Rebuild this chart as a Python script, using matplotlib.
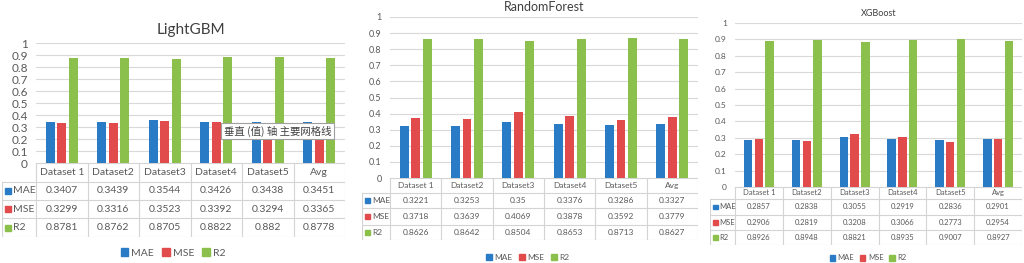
import matplotlib.pyplot as plt
from matplotlib.patches import Rectangle, Patch

plt.rcParams['font.family'] = ['Lato', 'DejaVu Sans']

# data
categories = ['Dataset 1', 'Dataset2', 'Dataset3', 'Dataset4', 'Dataset5', 'Avg']
metrics = ['MAE', 'MSE', 'R2']

lgbm_mae = [0.3407, 0.3439, 0.3544, 0.3426, 0.3438, 0.3451]
lgbm_mse = [0.3299, 0.3316, 0.3523, 0.3392, 0.3294, 0.3365]
lgbm_r2 = [0.8781, 0.8762, 0.8705, 0.8822, 0.882, 0.8778]

rf_mae = [0.3221, 0.3253, 0.35, 0.3376, 0.3286, 0.3327]
rf_mse = [0.3718, 0.3639, 0.4069, 0.3878, 0.3592, 0.3779]
rf_r2 = [0.8626, 0.8642, 0.8504, 0.8653, 0.8713, 0.8627]

xgb_mae = [0.2857, 0.2838, 0.3055, 0.2919, 0.2836, 0.2901]
xgb_mse = [0.2906, 0.2819, 0.3208, 0.3066, 0.2773, 0.2954]
xgb_r2 = [0.8926, 0.8948, 0.8821, 0.8935, 0.9007, 0.8927]

yticks = [0, 0.1, 0.2, 0.3, 0.4, 0.5, 0.6, 0.7, 0.8, 0.9, 1]

colors = ['#2A7BC5', '#E24B4B', '#8CC04C']
txt = '#595959'
grid = '#D9D9D9'

W, H = 1024, 263
fig = plt.figure(figsize=(W / 100, H / 100), dpi=100)


def fbox(x0, y0, x1, y1):
    # pixel box (top-left origin) -> figure rect
    return [x0 / W, 1 - y1 / H, (x1 - x0) / W, (y1 - y0) / H]


def draw_chart(title, series, lay):
    lab_l, col_l, col_r = lay['lab_l'], lay['col_l'], lay['col_r']
    y_top, y_zero = lay['y_top'], lay['y_zero']
    rows = lay['rows']
    fs = lay['fs']

    ax = fig.add_axes(fbox(col_l, y_top, col_r, y_zero))
    ax.set_xlim(-0.5, 5.5)
    ax.set_ylim(0, 1)
    for s in ax.spines.values():
        s.set_visible(False)
    ax.set_yticks(yticks)
    ax.set_yticklabels(['%g' % t for t in yticks])
    ax.tick_params(axis='y', length=0, labelsize=lay['tick_fs'], labelcolor=txt,
                   pad=lay['pad'])
    ax.set_xticks([])
    ax.yaxis.grid(True, color=grid, lw=0.8)
    ax.set_axisbelow(True)
    step, bw = 0.225, 0.175
    for k, vals in enumerate(series):
        xs = [i + (k - 1) * step for i in range(len(categories))]
        ax.bar(xs, vals, width=bw, color=colors[k], zorder=2)

    fig.text((col_l + col_r) / 2 / W, 1 - lay['title_y'] / H, title,
             ha='center', va='center', fontsize=lay['title_fs'], color='#404040')

    # data table
    tb = fig.add_axes(fbox(lab_l, rows[0], col_r, rows[-1]))
    tb.set_xlim(lab_l, col_r)
    tb.set_ylim(rows[-1], rows[0])
    tb.axis('off')
    ncol = len(categories)
    cw = (col_r - col_l) / ncol
    lc = '#D4D4D4'
    tb.plot([col_l, col_r], [rows[0], rows[0]], color=lc, lw=0.8)
    for r in rows[1:]:
        tb.plot([lab_l, col_r], [r, r], color=lc, lw=0.8)
    tb.plot([lab_l, lab_l], [rows[1], rows[-1]], color=lc, lw=0.8)
    for i in range(ncol + 1):
        tb.plot([col_l + i * cw] * 2, [rows[0], rows[-1]], color=lc, lw=0.8)
    for i, c in enumerate(categories):
        tb.text(col_l + (i + 0.5) * cw, (rows[0] + rows[1]) / 2, c,
                ha='center', va='center', fontsize=fs, color=txt)
    sq = lay['sq']
    for k, vals in enumerate(series):
        yc = (rows[k + 1] + rows[k + 2]) / 2
        tb.add_patch(Rectangle((lab_l + 3, yc - sq / 2), sq, sq, color=colors[k]))
        tb.text(lab_l + 5 + sq, yc, metrics[k], ha='left', va='center',
                fontsize=fs, color=txt)
        for i, v in enumerate(vals):
            tb.text(col_l + (i + 0.5) * cw, yc, '%g' % v, ha='center', va='center',
                    fontsize=fs, color=txt)

    handles = [Patch(color=colors[k], label=metrics[k]) for k in range(3)]
    fig.legend(handles=handles, loc='center', ncol=3, frameon=False,
               bbox_to_anchor=(lay['leg_x'] / W, 1 - lay['leg_y'] / H),
               fontsize=fs, labelcolor=txt, handlelength=0.7, handleheight=0.7,
               handletextpad=0.3, columnspacing=0.8, borderpad=0)
    return ax


draw_chart('LightGBM', [lgbm_mae, lgbm_mse, lgbm_r2],
           dict(lab_l=2, col_l=36, col_r=345, y_top=43, y_zero=163,
                rows=[163, 182, 200, 218, 237], fs=7.5, tick_fs=8.5, pad=6,
                title_y=30, title_fs=11, leg_x=173, leg_y=253, sq=6))
draw_chart('RandomForest', [rf_mae, rf_mse, rf_r2],
           dict(lab_l=362, col_l=390, col_r=698, y_top=17, y_zero=178,
                rows=[178, 193, 208, 225, 240], fs=6, tick_fs=6.5, pad=6,
                title_y=7, title_fs=9, leg_x=528, leg_y=257, sq=5))
draw_chart('XGBoost', [xgb_mae, xgb_mse, xgb_r2],
           dict(lab_l=710, col_l=735, col_r=1022, y_top=23, y_zero=187,
                rows=[187, 199, 215, 230, 245], fs=5.5, tick_fs=6, pad=6,
                title_y=14, title_fs=6.5, leg_x=868, leg_y=258, sq=4.5))

# hover tooltip visible in the screenshot
fig.text(224 / W, 1 - 131 / H, '垂直 (值) 轴 主要网格线', ha='left', va='center',
         fontsize=7.5, color='#404040', family=['Noto Sans CJK SC', 'DejaVu Sans'],
         bbox=dict(boxstyle='square,pad=0.25', fc='white', ec='#A0A0A0', lw=0.8),
         zorder=10)

fig.savefig('out.png', dpi=100)
